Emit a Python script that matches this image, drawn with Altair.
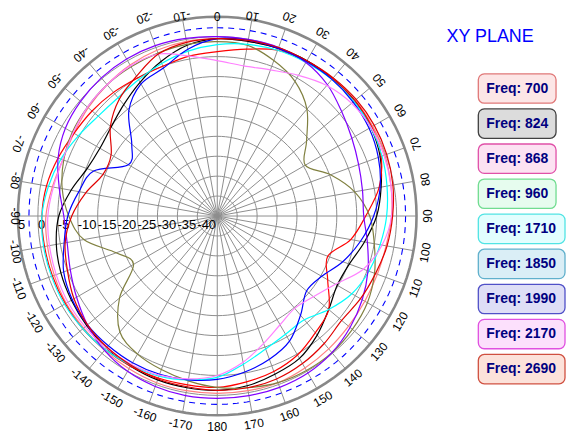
import altair as alt
import pandas as pd

# ---------------- data (dB) ----------------
ANGLES = [-180, -170, -160, -150, -140, -130, -120, -110, -100, -90, -80, -70, -60, -50, -40, -30, -20, -10,
          0, 10, 20, 30, 40, 50, 60, 70, 80, 90, 100, 110, 120, 130, 140, 150, 160, 170]

FREQS = ["Freq: 700", "Freq: 824", "Freq: 868", "Freq: 960", "Freq: 1710",
         "Freq: 1850", "Freq: 1990", "Freq: 2170", "Freq: 2690"]

F700 = [-0.5, -0.5, -0.5, -0.75, -1, -1.25, -1.25, -1.5, -1.75, -2, -3, -3.75, -3.5, -2.75, -2, -1.25, -0.75, -0.5,
        -0.5, -0.5, -0.25, 0, 0.25, 0.25, 0, -0.25, -0.75, -1.25, -2, -2.25, -2.25, -2, -1.5, -1, -0.5, -0.5]
F824 = [-1.25, -1.25, -1.25, -1.5, -1.75, -2.25, -2.75, -3.25, -4, -5.25, -7.75, -10.25, -11, -10.25, -8.5, -6.25, -3.75, -1.5,
        -0.5, -0.5, -0.25, 0, 0, 0, -0.5, -1.5, -3.25, -5, -7.5, -9.75, -10.25, -8.5, -6, -3.75, -2.75, -1.75]
F868 = [-2, -2, -1.75, -1.5, -1.25, -1, -1, -1, -1, -1, -1.5, -2.5, -3.5, -4, -4.5, -5, -5, -4.25,
        -3.75, -2.5, -0.75, -0.25, 0, 0, -0.25, -1.25, -3.75, -7.75, -11, -15.5, -13, -8.5, -6.75, -4.75, -3.5, -2.75]
F960 = [-2, -3, -4, -5, -7, -13, -20.75, -18, -11, -7.75, -5.5, -4, -3, -2.5, -2, -1.75, -1.5, -1.25,
        -1.25, -1.5, -3.5, -6, -10, -15.75, -19.5, -14.75, -10, -6.75, -5, -3, -1.5, -0.75, -0.25, -0.25, -0.5, -1.25]
F1710 = [-4.5, -3.25, -2.25, -1.75, -1.25, -1, -0.75, -0.75, -0.75, -1, -2, -3.25, -4.75, -6, -6.25, -5.5, -4.25, -3,
         -2, -1.25, -0.75, -0.5, -0.25, -0.25, -0.5, -1, -1.75, -2.5, -3.5, -4.5, -6, -8.5, -11, -10.75, -9.5, -7.25]
F1850 = [0.75, 0.75, 0.5, 0, -1, -2.5, -4.25, -5.75, -6.75, -6.5, -4.75, -2.5, -1, -0.25, 0.25, 0.5, 0.5, 0.25,
         0, 0, 0, -0.5, -2, -4.25, -6, -7.25, -8, -8.25, -6.75, -4.75, -3, -1.5, -0.25, 0.5, 0.75, 0.75]
F1990 = [-4, -3.25, -2.75, -2.5, -2.5, -2.5, -3, -4, -6, -7.5, -9.75, -12, -19.25, -17, -10.5, -6.75, -5.5, -2.5,
         -0.5, -0.25, -0.25, -0.25, -0.25, -0.5, -1, -2, -3.5, -5.75, -8.5, -11.5, -14.75, -15.75, -12.5, -8.75, -6.75, -5.25]
F2170 = [-5, -3.5, -2.5, -2, -1.75, -1.75, -1.75, -2, -2.25, -2.5, -3.25, -3.75, -3.25, -2.5, -2, -1.5, -1.75, -4.25,
         -6, -6.75, -6, -4.25, -2.25, -1, -0.5, -0.5, -0.75, -1.25, -3, -6, -10.75, -13.5, -14.75, -13.5, -11, -7.75]
F2690 = [-1.25, -1.5, -1.5, -1.75, -2, -2.5, -3.5, -5, -6.25, -8.5, -11.5, -14.5, -14.25, -10, -6.75, -4.5, -1.75, -0.75,
         -0.5, -0.25, 0, 0, 0.25, 0.5, 0.5, 0.25, -0.25, -1, -1.75, -2.75, -3.5, -4.25, -3.25, -2.25, -1.5, -1.25]
VALUES = [F700, F824, F868, F960, F1710, F1850, F1990, F2170, F2690]

LINE_COLORS = ["#FF8080", "#000000", "#FF0000", "#808040", "#00FFFF", "#8000FF", "#0000FF", "#FF80FF", "#E00000"]
BOX_FILLS = ["#FCE6E6", "#DCDCDC", "#FCE2F2", "#E6FCEE", "#E2FEFE", "#DAEEF6", "#DEDEF6", "#FCE0FC", "#FCE2DA"]
BOX_EDGES = ["#E07878", "#404040", "#E050A8", "#70DC90", "#50E4E4", "#60B0CC", "#5050C8", "#E050E0", "#D05040"]

RING_TICKS = [0, -5, -10, -15, -20, -25, -30, -35, -40]   # thin grid circles
OUTER_TICK = 5                                          # thick outer circle
DASH_LEVEL = 2.25                                        # dashed blue circle
RADIAL_LABELS = [5, 0, -5, -10, -15, -20, -25, -30, -35, -40]
SPOKES = [0, 10, 20, 30, 40, 50, 60, 70, 80, 90, 100, 110, 120, 130, 140, 150, 160, 170,
          180, 190, 200, 210, 220, 230, 240, 250, 260, 270, 280, 290, 300, 310, 320, 330, 340, 350]
FLOOR = -45  # dB at the centre

# ---------------- geometry ----------------
W, H = 560, 428
K = 4.0            # px per dB
CX, CY = 210, 208  # centre inside the plot area (px)
XS = alt.Scale(domain=[-CX / K, (W - CX) / K], nice=False, zero=False)
YS = alt.Scale(domain=[-(H - CY) / K, CY / K], nice=False, zero=False)
GRID = "#8E8E8E"
EDGE_GAP = 7.5     # keep angle labels inside the drawing

rows = []
for name, vals in zip(FREQS, VALUES):
    for i, (a, v) in enumerate(zip(ANGLES, vals)):
        rows.append({"series": name, "i": i, "ang": a, "db": v})
df_lines = pd.DataFrame(rows)

ring_rows = []
for k, lev in enumerate(RING_TICKS + [OUTER_TICK, DASH_LEVEL]):
    kind = "thin" if lev in RING_TICKS else ("outer" if lev == OUTER_TICK else "dash")
    for j, a in enumerate(range(0, 360, 3)):
        ring_rows.append({"ring": k, "kind": kind, "i": j, "ang": a, "db": lev})
df_rings = pd.DataFrame(ring_rows)


def polar(ch):
    return ch.transform_calculate(
        u=f"datum.db - ({FLOOR})"
    ).transform_calculate(
        x="datum.u * sin(datum.ang * PI / 180)",
        y="datum.u * cos(datum.ang * PI / 180)",
    )


def ring_layer(kind, **mk):
    return polar(alt.Chart(df_rings).transform_filter(f"datum.kind == '{kind}'")).mark_line(
        interpolate="linear-closed", **mk
    ).encode(
        x=alt.X("x:Q", scale=XS, axis=None),
        y=alt.Y("y:Q", scale=YS, axis=None),
        detail="ring:N",
        order="i:Q",
    )


thin = ring_layer("thin", color=GRID, strokeWidth=1)
outer = ring_layer("outer", color="#888888", strokeWidth=2.6)
dashed = ring_layer("dash", color="#0000FF", strokeWidth=1.1, strokeDash=[6, 5])

spokes = alt.Chart(pd.DataFrame({"ang": SPOKES})).transform_calculate(
    x0="0", y0="0",
    x1=f"{OUTER_TICK - FLOOR} * sin(datum.ang * PI / 180)",
    y1=f"{OUTER_TICK - FLOOR} * cos(datum.ang * PI / 180)",
).mark_rule(color=GRID, strokeWidth=1).encode(
    x=alt.X("x0:Q", scale=XS, axis=None), y=alt.Y("y0:Q", scale=YS, axis=None),
    x2="x1:Q", y2="y1:Q",
)

radial_labels = alt.Chart(pd.DataFrame({"db": RADIAL_LABELS})).transform_calculate(
    x=f"-(datum.db - ({FLOOR}))", y="0", lab="toString(datum.db)"
).mark_text(align="left", baseline="top", dy=3, fontSize=13, font="Liberation Sans", color="#000000").encode(
    x=alt.X("x:Q", scale=XS, axis=None), y=alt.Y("y:Q", scale=YS, axis=None), text="lab:N"
)

LAB_U = 53.0
angle_labels = alt.Chart(pd.DataFrame({"ang": SPOKES})).transform_calculate(
    s="sin(datum.ang * PI / 180)", c="cos(datum.ang * PI / 180)"
).transform_calculate(
    ul=f"min({LAB_U}, datum.c > 0.05 ? {(CY - EDGE_GAP) / K} / datum.c : 999, "
       f"datum.s < -0.05 ? {(CX - EDGE_GAP) / K} / (-datum.s) : 999)"
).transform_calculate(
    x="datum.ul * datum.s", y="datum.ul * datum.c",
    rot="(datum.ang + 180) % 360",
    lab="toString(datum.ang > 180 ? datum.ang - 360 : datum.ang)",
).mark_text(align="center", baseline="middle", fontSize=12, font="Liberation Sans", color="#000000").encode(
    x=alt.X("x:Q", scale=XS, axis=None), y=alt.Y("y:Q", scale=YS, axis=None),
    text="lab:N", angle=alt.Angle("rot:Q", scale=None),
)

curves = polar(alt.Chart(df_lines)).mark_line(interpolate="cardinal-closed", strokeWidth=1.2).encode(
    x=alt.X("x:Q", scale=XS, axis=None),
    y=alt.Y("y:Q", scale=YS, axis=None),
    color=alt.Color("series:N", scale=alt.Scale(domain=FREQS, range=LINE_COLORS), legend=None),
    detail="series:N",
    order="i:Q",
)

# ---------------- legend boxes ----------------
df_leg = pd.DataFrame({"freq": FREQS, "k": list(range(len(FREQS)))})
leg_base = alt.Chart(df_leg).transform_calculate(
    bx="472", bx2="length(datum.freq) > 9 ? 559 : 550",
    by="65.3 + 35.2 * datum.k", tx="480",
).transform_calculate(by2="datum.by + 29.5", ty="datum.by + 15")

boxes = leg_base.mark_rect(cornerRadius=6, strokeWidth=1.3).encode(
    x=alt.X("bx:Q", scale=None, axis=None), x2="bx2:Q",
    y=alt.Y("by:Q", scale=None, axis=None), y2="by2:Q",
    fill=alt.Fill("freq:N", scale=alt.Scale(domain=FREQS, range=BOX_FILLS), legend=None),
    stroke=alt.Stroke("freq:N", scale=alt.Scale(domain=FREQS, range=BOX_EDGES), legend=None),
)
box_text = leg_base.mark_text(align="left", baseline="middle", fontSize=14, fontWeight="bold",
                              font="Liberation Sans", color="#000080").encode(
    x=alt.X("tx:Q", scale=None, axis=None), y=alt.Y("ty:Q", scale=None, axis=None), text="freq:N"
)

title = alt.Chart(pd.DataFrame({"t": ["XY PLANE"]})).mark_text(
    align="left", baseline="alphabetic", fontSize=18, font="Liberation Sans", color="#0000FF"
).encode(x=alt.value(440), y=alt.value(33), text="t:N")

chart = alt.layer(
    thin, spokes, outer, dashed, radial_labels, angle_labels, curves, boxes, box_text, title
).resolve_scale(x="independent", y="independent").properties(
    width=W, height=H, autosize=alt.AutoSizeParams(type="none"), padding=0
).configure_view(stroke=None)

chart.save("out.html", embed_options={"renderer": "svg", "actions": False})
